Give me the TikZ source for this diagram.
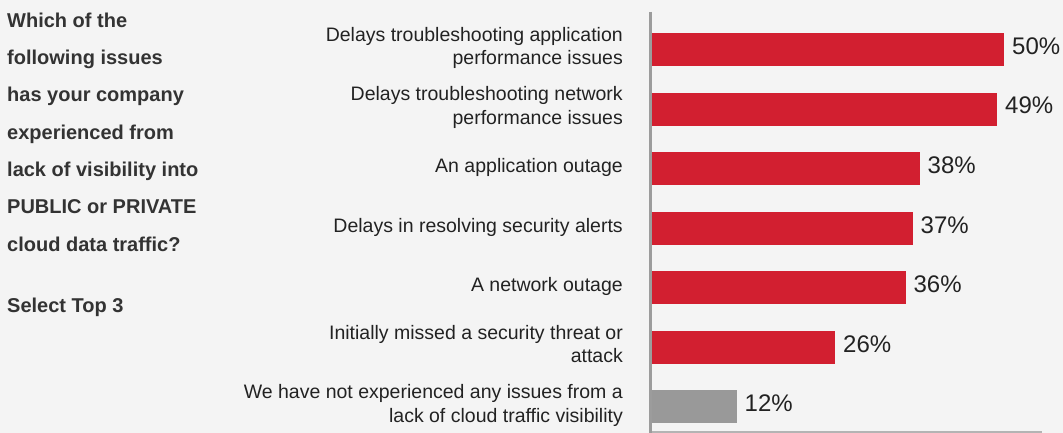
\documentclass[tikz,border=0pt]{standalone}
\usepackage{fontspec}
\setmainfont{Liberation Sans}
\definecolor{pagebg}{HTML}{F4F4F4}
\definecolor{barred}{HTML}{D21F30}
\definecolor{bargray}{HTML}{999999}
\definecolor{axisgray}{HTML}{9C9C9C}
\definecolor{basegray}{HTML}{B4B4B4}
\definecolor{inktext}{HTML}{222222}
\definecolor{qink}{HTML}{333333}
\begin{document}
\begin{tikzpicture}[x=1pt,y=-1pt,
  qtext/.style={font=\fontsize{20}{37.3}\selectfont\bfseries, text=qink,
    align=left, inner sep=0pt, anchor=base west},
  cattext/.style={font=\fontsize{19.5}{23.5}\selectfont, text=inktext,
    align=right, inner sep=0pt, anchor=base east},
  pcttext/.style={font=\fontsize{24}{24}\selectfont, text=inktext,
    inner sep=0pt, anchor=base west},
  barbox/.style={draw=none, inner sep=0pt, minimum height=33pt, anchor=north west},
  vaxis/.style={draw=axisgray, line width=3pt},
  haxis/.style={draw=basegray, line width=1.5pt}]
  % page
  \fill[pagebg] (0,0) rectangle (1063,433);
  \useasboundingbox (0,0) rectangle (1063,433);

  % question text (the base anchor sits on the last line)
  \node[qtext] (question) at (7,251) {Which of the\\following issues\\has your company\\experienced from\\lack of visibility into\\PUBLIC or PRIVATE\\cloud data traffic?};
  \node[qtext] (select) at (7,312) {Select Top 3};

  % axes
  \coordinate (axtop) at (650.5,12);
  \coordinate (axbot) at (650.5,433);
  \coordinate (baseL) at (650,432);
  \coordinate (baseR) at (1042,432);
  \draw[haxis] (baseL) -- (baseR);

  % bars, category labels and values; \o places the last baseline of a label
  \foreach \i/\p/\c/\o/\t in {
    0/50/barred/15.5/{Delays troubleshooting application\\performance issues},
    1/49/barred/15.5/{Delays troubleshooting network\\performance issues},
    2/38/barred/4/{An application outage},
    3/37/barred/4/{Delays in resolving security alerts},
    4/36/barred/4/{A network outage},
    5/26/barred/15.5/{Initially missed a security threat or\\attack},
    6/12/bargray/15.5/{We have not experienced any issues from a\\lack of cloud traffic visibility}}
  {
    \pgfmathsetmacro\ytop{33+59.5*\i}
    \pgfmathsetmacro\yc{\ytop+16.5}
    \pgfmathsetmacro\xend{652+\p*7.04}
    \node[barbox, fill=\c, minimum width={\p*7.04pt}] (bar\i) at (652,\ytop) {};
    \node[cattext] (lbl\i) at (623,\yc+\o) {\t};
    \node[pcttext] (pct\i) at (\xend+8,\yc+5) {\p\%};
  }

  \draw[vaxis] (axtop) -- (axbot);
\end{tikzpicture}
\end{document}
